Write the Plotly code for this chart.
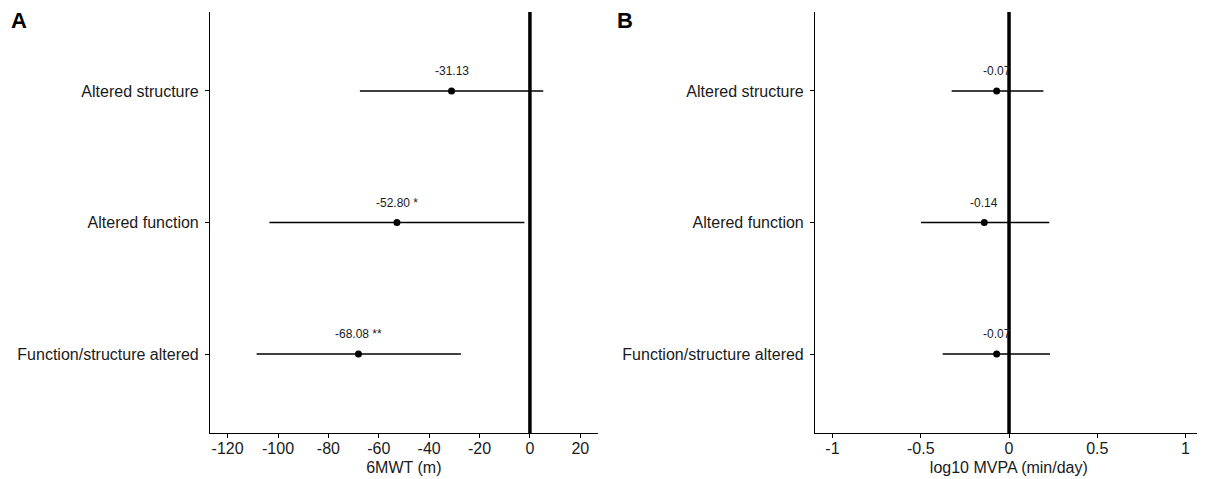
import plotly.graph_objects as go

categories = ["Function/structure altered", "Altered function", "Altered structure"]

# Panel A: 6MWT (m)
a_est = [-68.08, -52.80, -31.13]
a_low = [-108.5, -103.4, -67.5]
a_high = [-27.4, -2.2, 5.3]
a_labels = ["-68.08 **", "-52.80 *", "-31.13"]

# Panel B: log10 MVPA (min/day)
b_est = [-0.07, -0.14, -0.07]
b_low = [-0.376, -0.499, -0.325]
b_high = [0.232, 0.228, 0.195]
b_labels = ["-0.07", "-0.14", "-0.07"]

a_ticks = [-120, -100, -80, -60, -40, -20, 0, 20]
a_ticktext = ["-120", "-100", "-80", "-60", "-40", "-20", "0", "20"]
b_ticks = [-1, -0.5, 0, 0.5, 1]
b_ticktext = ["-1", "-0.5", "0", "0.5", "1"]

ypos = [1, 2, 3]
FONT = "Liberation Sans, Arial, Helvetica, sans-serif"
TXT = "#1a1a1a"

# page body has an 8px margin; figure sized to fit the 1205x479 window
OFF = 8
W, H = 1205 - OFF, 479 - OFF

def px_x(x):
    return (x - OFF) / W

def px_y(y):
    return 1 - (y - OFF) / H

fig = go.Figure()

def add_panel(est, low, high, xa, ya):
    fig.add_trace(go.Scatter(
        x=est, y=ypos, mode="markers",
        marker=dict(color="black", size=7),
        error_x=dict(type="data", symmetric=False,
                     array=[h - e for h, e in zip(high, est)],
                     arrayminus=[e - l for e, l in zip(est, low)],
                     color="black", thickness=1.6, width=0),
        xaxis=xa, yaxis=ya, showlegend=False, hoverinfo="skip"))
    fig.add_trace(go.Scatter(
        x=[0, 0], y=[0.4, 3.6], mode="lines",
        line=dict(color="black", width=3.5),
        xaxis=xa, yaxis=ya, showlegend=False, hoverinfo="skip"))

add_panel(a_est, a_low, a_high, "x", "y")
add_panel(b_est, b_low, b_high, "x2", "y2")

annotations = []
for e, y, t in zip(a_est, ypos, a_labels):
    annotations.append(dict(x=e, y=y, xref="x", yref="y", text=t, showarrow=False,
                            yshift=20, font=dict(size=12, color=TXT, family=FONT)))
for e, y, t in zip(b_est, ypos, b_labels):
    annotations.append(dict(x=e, y=y, xref="x2", yref="y2", text=t, showarrow=False,
                            yshift=20, font=dict(size=12, color=TXT, family=FONT)))
annotations.append(dict(x=px_x(19), y=px_y(20.5), xref="paper", yref="paper", text="<b>A</b>",
                        xanchor="center", yanchor="middle",
                        showarrow=False, font=dict(size=22, color="black", family=FONT)))
annotations.append(dict(x=px_x(625), y=px_y(20.5), xref="paper", yref="paper", text="<b>B</b>",
                        xanchor="center", yanchor="middle",
                        showarrow=False, font=dict(size=22, color="black", family=FONT)))

axis_common = dict(showline=True, linecolor="black", linewidth=1.1, ticks="outside",
                   ticklen=4, tickcolor="black", tickwidth=1.1, showgrid=False, zeroline=False,
                   tickfont=dict(size=16, color=TXT, family=FONT))

ydom = [px_y(433), px_y(12)]

fig.update_layout(
    width=W, height=H,
    margin=dict(l=0, r=0, t=0, b=0),
    paper_bgcolor="white", plot_bgcolor="white",
    font=dict(family=FONT, color=TXT),
    xaxis=dict(domain=[px_x(210), px_x(597.7)], range=[-127, 26.9], ticklabelstandoff=-3,
               tickvals=a_ticks, ticktext=a_ticktext, anchor="y",
               title=dict(text="6MWT (m)", font=dict(size=16, color=TXT, family=FONT), standoff=5),
               **axis_common),
    yaxis=dict(domain=ydom, range=[0.4, 3.6], ticklabelstandoff=3,
               tickvals=ypos, ticktext=categories, anchor="x", **axis_common),
    xaxis2=dict(domain=[px_x(815), px_x(1202.7)], range=[-1.099, 1.097], ticklabelstandoff=-3,
                tickvals=b_ticks, ticktext=b_ticktext, anchor="y2",
                title=dict(text="log10 MVPA (min/day)", font=dict(size=16, color=TXT, family=FONT), standoff=5),
                **axis_common),
    yaxis2=dict(domain=ydom, range=[0.4, 3.6], ticklabelstandoff=3,
                tickvals=ypos, ticktext=categories, anchor="x2", **axis_common),
    annotations=annotations,
)

fig.write_html("out.html")
